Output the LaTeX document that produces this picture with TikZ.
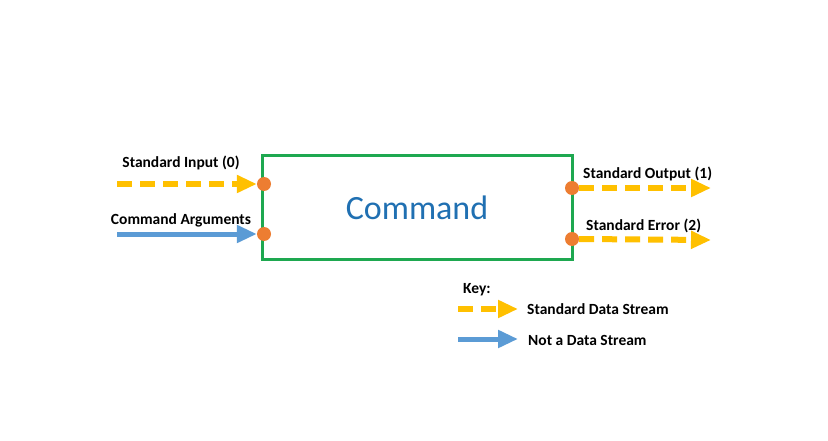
\documentclass[tikz,border=0pt]{standalone}
\usepackage{fontspec}
\setmainfont{Carlito}
\usetikzlibrary{arrows.meta}
\definecolor{boxgreen}{RGB}{30,168,80}
\definecolor{cmdblue}{RGB}{32,112,178}
\definecolor{dotorange}{RGB}{237,125,49}
\definecolor{streamyellow}{RGB}{255,192,0}
\definecolor{argblue}{RGB}{91,155,213}
\tikzset{
  x=1pt, y=-1pt,
  port/.style={circle, fill=dotorange, draw=none, minimum size=14pt, inner sep=0pt},
  lbl/.style={font=\bfseries\fontsize{15.5}{17}\selectfont, inner sep=0pt},
  datastream/.style={draw=streamyellow, line width=6pt, dash pattern=on 15pt off 8pt,
    -{Triangle[length=20pt,width=17pt]}},
  plainarrow/.style={draw=argblue, line width=5pt, -{Triangle[length=20pt,width=17pt]}},
}
\begin{document}
\begin{tikzpicture}
\useasboundingbox[fill=white] (0,0) rectangle (828,441);
\node[draw=boxgreen, line width=3pt, minimum width=310pt, minimum height=103pt, inner sep=0pt,
  text=cmdblue, font=\fontsize{34}{40}\selectfont] (cmd) at (417,207.5) {Command};
\node[port] (in0) at (264,184) {};
\node[port] (arg) at (264,234) {};
\node[port] (out1) at (572,188) {};
\node[port] (err2) at (572,239) {};
\coordinate (sIn) at (117,184);
\coordinate (sArg) at (117,234);
\coordinate (eOut) at (711,188);
\coordinate (eErr) at (711,240);
\draw[datastream] (sIn) -- (in0.west);
\draw[plainarrow] (sArg) -- (arg.west);
\draw[datastream] (out1.east) -- (eOut);
\draw[datastream] (err2.east) -- (eErr);
\node[lbl] (lin) at (181,163) {Standard Input (0)};
\node[lbl] (larg) at (181,220) {Command Arguments};
\node[lbl, anchor=west] (lout) at (583,174) {Standard Output (1)};
\node[lbl, anchor=west] (lerr) at (586,226) {Standard Error (2)};
% key
\node[lbl, anchor=west] (key) at (463,290) {Key:};
\coordinate (k1s) at (458,309);
\coordinate (k1e) at (518,309);
\coordinate (k2s) at (458,339);
\coordinate (k2e) at (518,339);
\draw[datastream] (k1s) -- (k1e);
\draw[plainarrow] (k2s) -- (k2e);
\node[lbl, anchor=west] (kd) at (527,309) {Standard Data Stream};
\node[lbl, anchor=west] (kn) at (528,340) {Not a Data Stream};
\end{tikzpicture}
\end{document}
